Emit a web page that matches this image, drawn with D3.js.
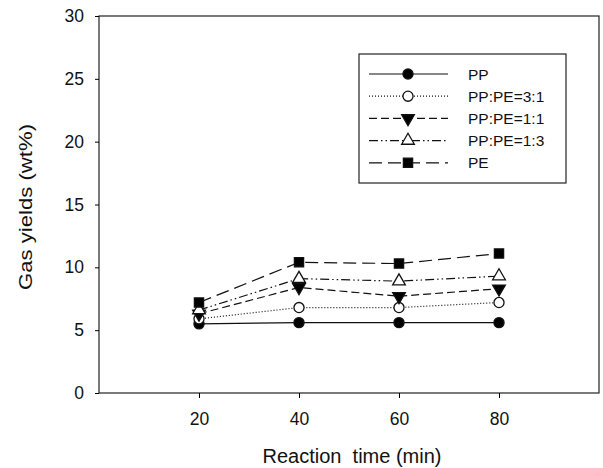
<!DOCTYPE html>
<html>
<head>
<meta charset="utf-8">
<script src="https://cdn.jsdelivr.net/npm/d3@7"></script>
<style>
  body { margin: 0; background: #fff; }
  svg { font-family: "Liberation Sans", Arial, sans-serif; }
</style>
</head>
<body>
<div id="chart"></div>
<script>
// Reaction time (min)
const times = [20, 40, 60, 80];

// Gas yields (wt%) per feed
const seriesNames = ['PP', 'PP:PE=3:1', 'PP:PE=1:1', 'PP:PE=1:3', 'PE'];
const ppValues = [5.5, 5.6, 5.6, 5.6];
const pp31Values = [5.9, 6.8, 6.8, 7.2];
const pp11Values = [6.3, 8.4, 7.7, 8.3];
const pp13Values = [6.6, 9.1, 8.9, 9.3];
const peValues = [7.2, 10.4, 10.3, 11.1];

const xTicks = [20, 40, 60, 80];
const yTicks = [0, 5, 10, 15, 20, 25, 30];

const width = 603;
const height = 468;
const margin = { top: 16, right: 4, bottom: 75, left: 99 };

const svg = d3.select('#chart')
    .append('svg')
    .attr('width', width)
    .attr('height', height);

const xScale = d3.scaleLinear()
    .domain([0, 100])
    .range([margin.left, width - margin.right]);

const yScale = d3.scaleLinear()
    .domain([0, 30])
    .range([height - margin.bottom, margin.top]);

// style for each series: dash pattern and marker
const styles = [
    { dash: null, symbol: d3.symbolCircle, size: 80, fill: '#000', rotate: 0 },
    { dash: '1,2', symbol: d3.symbolCircle, size: 80, fill: '#fff', rotate: 0 },
    { dash: '8,4', symbol: d3.symbolTriangle, size: 70, fill: '#000', rotate: 180 },
    { dash: '9,3,1.5,3,1.5,3', symbol: d3.symbolTriangle, size: 70, fill: '#fff', rotate: 0 },
    { dash: '13,6', symbol: d3.symbolSquare, size: 85, fill: '#000', rotate: 0 }
];

const allValues = [ppValues, pp31Values, pp11Values, pp13Values, peValues];
const series = seriesNames.map((name, i) => ({
    name: name,
    style: styles[i],
    points: times.map((t, j) => ({ x: t, y: allValues[i][j] }))
}));

// frame
svg.append('rect')
    .attr('x', xScale(0))
    .attr('y', yScale(30))
    .attr('width', xScale(100) - xScale(0))
    .attr('height', yScale(0) - yScale(30))
    .attr('fill', 'none')
    .attr('stroke', '#222')
    .attr('stroke-width', 1.2);

// axes
const xAxis = d3.axisBottom(xScale).tickValues(xTicks).tickSize(5).tickPadding(15);
const gx = svg.append('g')
    .attr('transform', `translate(0, ${yScale(0)})`)
    .call(xAxis);
gx.select('.domain').remove();
gx.selectAll('text').attr('font-size', 17.5).attr('fill', '#111');

const yAxis = d3.axisLeft(yScale).tickValues(yTicks).tickSize(4).tickPadding(11);
const gy = svg.append('g')
    .attr('transform', `translate(${xScale(0)}, 0)`)
    .call(yAxis);
gy.select('.domain').remove();
gy.selectAll('text').attr('font-size', 17.5).attr('fill', '#111');

// lines
const line = d3.line()
    .x(d => xScale(d.x))
    .y(d => yScale(d.y));

series.forEach(s => {
    svg.append('path')
        .datum(s.points)
        .attr('d', line)
        .attr('fill', 'none')
        .attr('stroke', '#111')
        .attr('stroke-width', 1.2)
        .attr('stroke-dasharray', s.style.dash);
});

// markers
series.forEach(s => {
    const sym = d3.symbol().type(s.style.symbol).size(s.style.size);
    svg.selectAll(null)
        .data(s.points)
        .enter()
        .append('path')
        .attr('d', sym)
        .attr('transform', d => `translate(${xScale(d.x)}, ${yScale(d.y)}) rotate(${s.style.rotate})`)
        .attr('fill', s.style.fill)
        .attr('stroke', '#111')
        .attr('stroke-width', 1.3);
});

// legend
const legend = svg.append('g');
legend.append('rect')
    .attr('x', 359)
    .attr('y', 54)
    .attr('width', 207)
    .attr('height', 129)
    .attr('fill', '#fff')
    .attr('stroke', '#222')
    .attr('stroke-width', 1.2);

series.forEach((s, i) => {
    const y = 74 + i * 22.2;
    legend.append('line')
        .attr('x1', 369)
        .attr('x2', 448)
        .attr('y1', y)
        .attr('y2', y)
        .attr('stroke', '#111')
        .attr('stroke-width', 1.2)
        .attr('stroke-dasharray', s.style.dash);
    legend.append('path')
        .attr('d', d3.symbol().type(s.style.symbol).size(s.style.size))
        .attr('transform', `translate(408, ${y}) rotate(${s.style.rotate})`)
        .attr('fill', s.style.fill)
        .attr('stroke', '#111')
        .attr('stroke-width', 1.3);
    legend.append('text')
        .attr('x', 468)
        .attr('y', y)
        .attr('dy', '0.36em')
        .attr('font-size', 15.5)
        .attr('fill', '#111')
        .text(s.name);
});

// axis titles
svg.append('text')
    .attr('x', 352)
    .attr('y', 463)
    .attr('text-anchor', 'middle')
    .attr('font-size', 20)
    .attr('fill', '#111')
    .style('white-space', 'pre')
    .text('Reaction  time (min)');

svg.append('text')
    .attr('transform', 'rotate(-90)')
    .attr('x', -290)
    .attr('y', 32)
    .attr('font-size', 19)
    .attr('fill', '#111')
    .attr('textLength', 166)
    .attr('lengthAdjust', 'spacingAndGlyphs')
    .text('Gas yields (wt%)');
</script>
</body>
</html>
